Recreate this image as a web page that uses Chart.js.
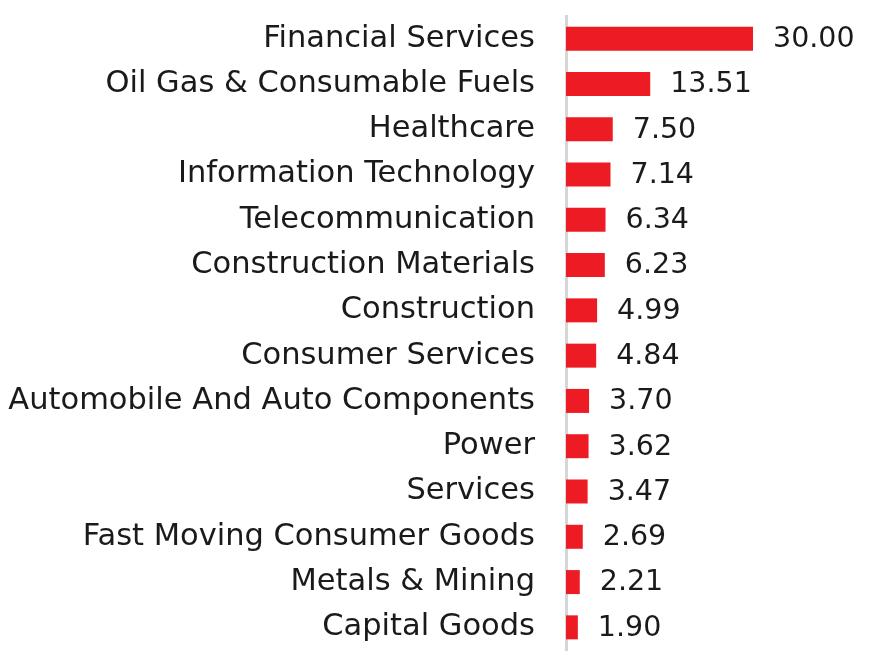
<!DOCTYPE html>
<html>
<head>
<meta charset="utf-8">
<style>
  html, body { margin: 0; padding: 0; background: #fff; overflow: hidden; }
</style>
<script src="https://cdn.jsdelivr.net/npm/chart.js@4"></script>
</head>
<body>
<canvas id="myChart" width="874" height="664"></canvas>
<script>
const sectors = ['Financial Services', 'Oil Gas & Consumable Fuels', 'Healthcare', 'Information Technology',
    'Telecommunication', 'Construction Materials', 'Construction', 'Consumer Services',
    'Automobile And Auto Components', 'Power', 'Services', 'Fast Moving Consumer Goods',
    'Metals & Mining', 'Capital Goods'];
const weights = [30.00, 13.51, 7.50, 7.14, 6.34, 6.23, 4.99, 4.84, 3.70, 3.62, 3.47, 2.69, 2.21, 1.90];

const labelFont = { family: 'DejaVu Sans', size: 30.5 };
const valueFont = { family: 'DejaVu Sans', size: 28.5 };

const valueLabels = {
    id: 'valueLabels',
    afterDatasetsDraw(chart) {
        const c = chart.ctx;
        const meta = chart.getDatasetMeta(0);
        c.save();
        c.font = valueFont.size + 'px ' + valueFont.family;
        c.fillStyle = '#1a1a1a';
        c.textAlign = 'left';
        c.textBaseline = 'middle';
        meta.data.forEach((bar, i) => {
            c.fillText(weights[i].toFixed(2), bar.x + 20, bar.y + 1);
        });
        c.restore();
    }
};

const ctx = document.getElementById('myChart').getContext('2d');
const myChart = new Chart(ctx, {
    type: 'bar',
    data: {
        labels: sectors,
        datasets: [{
            data: weights,
            backgroundColor: '#ed1c24',
            barPercentage: 0.53,
            categoryPercentage: 1
        }]
    },
    options: {
        indexAxis: 'y',
        responsive: false,
        animation: false,
        layout: { padding: { top: 16, bottom: 14, right: 0 } },
        plugins: { legend: { display: false }, tooltip: { enabled: false } },
        scales: {
            x: {
                min: 0,
                max: 30 * 308 / 187,
                display: false
            },
            y: {
                afterFit(scale) {
                    scale.width = 566;
                    scale.paddingTop = 0;
                    scale.paddingBottom = 0;
                },
                grid: { display: false, drawTicks: false },
                border: { display: true, color: '#d6d6d6', width: 3 },
                ticks: { color: '#1a1a1a', font: labelFont, padding: 31, autoSkip: false }
            }
        }
    },
    plugins: [valueLabels]
});
</script>
</body>
</html>
